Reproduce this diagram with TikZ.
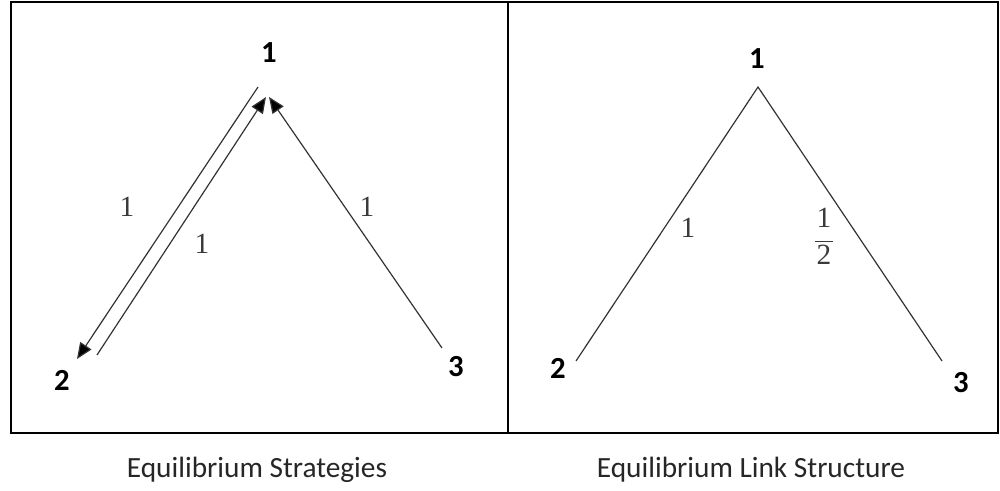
\documentclass[tikz,border=0pt]{standalone}
\usepackage{fontspec}
\setmainfont{Carlito}
\newfontfamily\numfont{Liberation Serif}
\usetikzlibrary{arrows.meta}
\definecolor{linegray}{HTML}{333333}
\definecolor{labgray}{HTML}{3A3A3A}
\tikzset{
  vlabel/.style={font=\fontsize{23}{26}\selectfont\bfseries, inner sep=0pt},
  elabel/.style={font=\numfont\fontsize{22}{24}\selectfont, text=labgray, inner sep=0pt},
  caption/.style={font=\fontsize{22}{26}\selectfont, text=black!85, inner sep=0pt},
  link/.style={draw=linegray, line width=0.9pt},
  arr/.style={link, -{Triangle[length=12pt,width=10pt,fill=black]}},
  frame/.style={draw=black, line width=1.5pt}
}
\begin{document}
\begin{tikzpicture}[x=0.75pt,y=-0.75pt]
\useasboundingbox (0,0) rectangle (1000,491);
% frame
\draw[frame] (11,2) rectangle (998,433);
\draw[frame] (508,2) -- (508,433);
% left panel
\node[vlabel] (L1) at (269,53) {1};
\node[vlabel] (L2) at (62,380) {2};
\node[vlabel] (L3) at (456,367) {3};
\coordinate (a1s) at (258,87);
\coordinate (a1t) at (77,359);
\coordinate (a2s) at (97,355);
\coordinate (a2t) at (266,97);
\coordinate (a3s) at (442,348);
\coordinate (a3t) at (269,97);
\draw[arr] (a1s) -- (a1t);
\draw[arr] (a2s) -- (a2t);
\draw[arr] (a3s) -- (a3t);
\node[elabel] (e1) at (127,207) {1};
\node[elabel] (e2) at (202,244) {1};
\node[elabel] (e3) at (367,207) {1};
% right panel
\node[vlabel] (R1) at (757,59) {1};
\node[vlabel] (R2) at (558,368) {2};
\node[vlabel] (R3) at (961,383) {3};
\coordinate (apex) at (758,87);
\coordinate (lend) at (576,361);
\coordinate (rend) at (942,361);
\draw[link] (lend) -- (apex) -- (rend);
\node[elabel] (f1) at (688,228) {1};
\node[elabel] (f2) at (824,240) {\renewcommand{\arraystretch}{0.95}\begin{tabular}{@{\hspace{1pt}}c@{\hspace{1pt}}}1\\[3pt]\hline\rule{0pt}{17pt}2\end{tabular}};
% captions
\node[caption] (c1) at (257,470) {Equilibrium Strategies};
\node[caption] (c2) at (751,470) {Equilibrium Link Structure};
\end{tikzpicture}
\end{document}
